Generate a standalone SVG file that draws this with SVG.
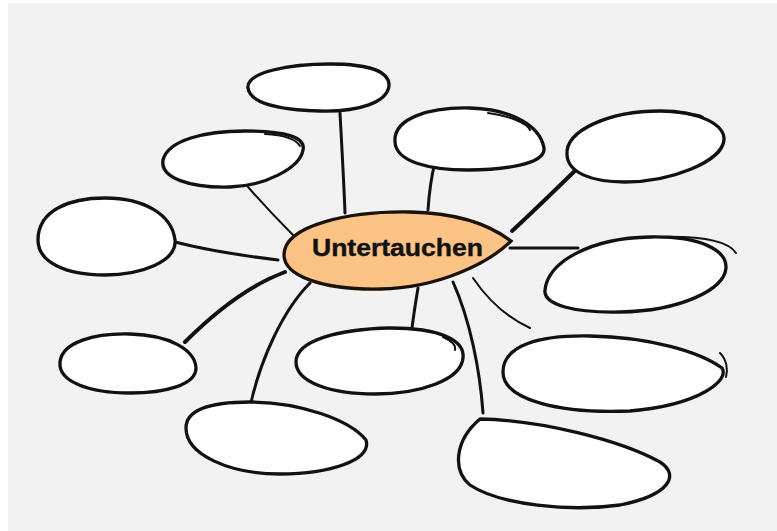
<svg xmlns="http://www.w3.org/2000/svg" width="777" height="531" viewBox="0 0 777 531">
<style>
.node{fill:#ffffff;stroke:#111111;stroke-width:3.3;stroke-linejoin:round}
.over{fill:none;stroke:#111111;stroke-width:2;stroke-linecap:round}
.con{fill:none;stroke:#111111;stroke-linecap:round}
.center{fill:#fbc384;stroke:#1a1208;stroke-width:3.3}
.label{font-family:"Liberation Sans",Arial,sans-serif;font-weight:bold;font-size:24px;fill:#111111;stroke:#111111;stroke-width:0.4}
</style>
<rect x="0" y="0" width="777" height="531" fill="#ffffff"/>
<rect x="8" y="3" width="769" height="528" fill="#f2f2f2"/>
<g id="connectors">
<path class="con" stroke-width="3" d="M340,113 C342,150 344,185 345,213"/>
<path class="con" stroke-width="2" d="M248,187 C262,203 278,220 293,235"/>
<path class="con" stroke-width="3" d="M435,162 C431,178 429,195 428,210"/>
<path class="con" stroke-width="4" d="M581,165 C558,187 535,210 512,231"/>
<path class="con" stroke-width="3" d="M175,242 C210,251 245,256 278,260"/>
<path class="con" stroke-width="4" d="M185,342 C215,312 250,285 285,272"/>
<path class="con" stroke-width="3" d="M250,407 C260,360 283,310 310,283"/>
<path class="con" stroke-width="3" d="M412,328 C414,312 416,300 418,288"/>
<path class="con" stroke-width="3" d="M453,282 C470,320 480,370 483,413"/>
<path class="con" stroke-width="2" d="M473,278 C488,300 508,318 530,328"/>
<path class="con" stroke-width="3" d="M510,248 C532,248 555,248 578,248"/>
</g>
<g id="n1">
<path class="node" d="M248,88 C246,72 290,64 330,64 C370,64 390,72 389,86 C387,102 360,112 320,111 C275,110 250,102 248,88 Z"/>
<path class="over" d="M355,66 C370,66 383,70 386,78"/>
</g>
<g id="n2">
<path class="node" d="M163,160 C168,140 205,131 245,131 C285,131 306,137 303,150 C300,168 265,186 230,187 C190,188 160,178 163,160 Z"/>
<path class="over" d="M265,134 C283,135 296,139 300,146"/>
</g>
<g id="n3">
<path class="node" d="M395,142 C393,118 430,107 470,108 C510,109 540,125 544,148 C546,165 500,170 468,170 C430,170 396,162 395,142 Z"/>
<path class="over" d="M488,113 C510,116 527,123 530,130"/>
</g>
<g id="n4">
<path class="node" d="M567,155 C565,130 610,111 660,111 C700,111 725,125 724,140 C722,162 670,182 625,182 C590,182 568,172 567,155 Z"/>
<path class="over" d="M670,112 C688,113 700,114 703,117"/>
</g>
<g id="n5">
<path class="node" d="M38,240 C38,210 70,198 105,198 C145,198 172,215 175,240 C177,262 140,275 105,275 C65,275 38,262 38,240 Z"/>
</g>
<g id="n6">
<path class="node" d="M60,362 C62,342 95,333 130,334 C170,335 195,350 196,368 C196,385 165,393 130,393 C90,393 58,382 60,362 Z"/>
</g>
<g id="n7">
<path class="node" d="M545,290 C548,262 590,238 650,237 C700,236 727,250 726,268 C724,290 680,311 620,312 C575,313 543,305 545,290 Z"/>
<path class="over" d="M660,237 C700,236 728,241 736,253"/>
</g>
<g id="n8">
<path class="node" d="M503,372 C503,345 540,335 590,336 C650,337 700,352 722,368 C730,380 700,405 630,411 C560,414 503,400 503,372 Z"/>
<path class="over" d="M720,353 C727,360 728,370 726,377"/>
</g>
<g id="n9">
<path class="node" d="M296,362 C296,340 340,329 390,328 C440,328 465,340 463,358 C461,380 420,394 375,394 C330,394 296,382 296,362 Z"/>
<path class="over" d="M443,337 C452,341 456,346 455,350"/>
</g>
<g id="n10">
<path class="node" d="M186,428 C186,408 215,402 250,402 C300,402 350,420 366,440 C372,460 330,474 280,474 C230,474 186,455 186,428 Z"/>
</g>
<g id="n11">
<path class="node" d="M480,419 C540,420 620,440 660,462 C680,475 670,495 620,505 C570,512 500,505 470,485 C452,470 455,440 480,419 Z"/>
</g>
<g id="center">
<path class="center" d="M284,255 C284,225 350,211 410,212 C460,213 490,225 511,241 C490,262 440,288 380,289 C320,290 284,275 284,255 Z"/>
<text class="label" x="312" y="256" textLength="171" lengthAdjust="spacingAndGlyphs">Untertauchen</text>
</g>
</svg>
